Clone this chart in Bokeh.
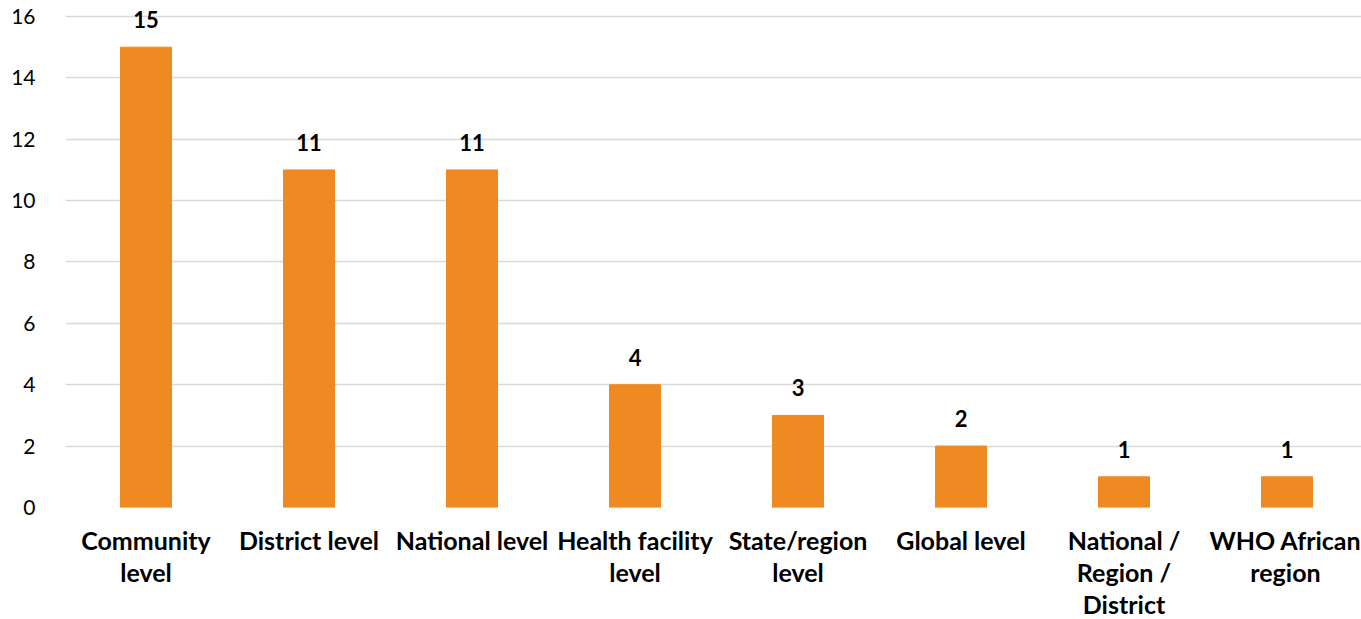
from bokeh.plotting import figure
from bokeh.models import Range1d, FixedTicker, ColumnDataSource, LabelSet
from bokeh.core.properties import value
from bokeh.embed import file_html
from bokeh.resources import INLINE

categories = [
    "Community\nlevel",
    "District level",
    "National level",
    "Health facility\nlevel",
    "State/region\nlevel",
    "Global level",
    "National /\nRegion /\nDistrict",
    "WHO African\nregion",
]
counts = [15, 11, 11, 4, 3, 2, 1, 1]
y_ticks = [0, 2, 4, 6, 8, 10, 12, 14, 16]

BAR = "#EE8A21"
GRID = "#D9D9D9"
FONT = "Lato"

positions = list(range(len(categories)))
src = ColumnDataSource(dict(x=positions, top=counts,
                            label=[str(c) for c in counts]))

# frame runs to the top edge so the value label above the tallest bar stays visible
p = figure(frame_width=1296, frame_height=507, output_backend="svg",
           toolbar_location=None,
           x_range=Range1d(-0.494, 7.457), y_range=Range1d(0, 16.521),
           min_border_left=65, min_border_right=0, min_border_top=0,
           min_border_bottom=0)
p.outline_line_color = None

p.vbar(x="x", top="top", width=0.313, source=src, color=BAR)

p.add_layout(LabelSet(x="x", y="top", text="label", source=src,
                      text_align="center", text_baseline="alphabetic",
                      y_offset=19, text_font=value(FONT),
                      text_font_style="bold",
                      text_font_size="22px", text_color="#000000"))

p.xgrid.visible = False
p.ygrid.grid_line_color = GRID
p.ygrid.grid_line_width = 1.5
p.ygrid.ticker = FixedTicker(ticks=y_ticks)

p.yaxis.ticker = FixedTicker(ticks=y_ticks)
p.yaxis.axis_line_color = None
p.yaxis.major_tick_line_color = None
p.yaxis.minor_tick_line_color = None
p.yaxis.major_label_standoff = 24
p.yaxis.major_label_text_font = FONT
p.yaxis.major_label_text_font_size = "21px"
p.yaxis.major_label_text_color = "#000000"

p.xaxis.ticker = FixedTicker(ticks=positions)
p.xaxis.major_label_overrides = {i: c for i, c in zip(positions, categories)}
p.xaxis.axis_line_color = None
p.xaxis.major_tick_line_color = None
p.xaxis.minor_tick_line_color = None
p.xaxis.major_label_standoff = 11
p.xaxis.major_label_text_font = FONT
p.xaxis.major_label_text_font_style = "bold"
p.xaxis.major_label_text_font_size = "25px"
p.xaxis.major_label_text_color = "#000000"
p.xaxis.major_label_text_line_height = 1.07

open("out.html", "w").write(file_html(p, INLINE))
